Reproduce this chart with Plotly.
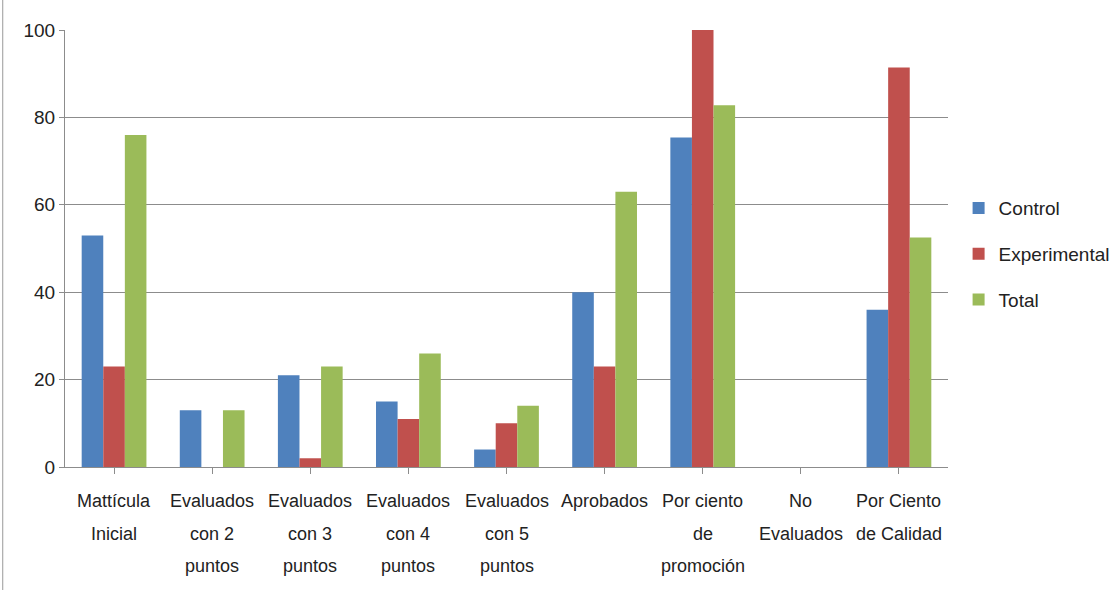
import plotly.graph_objects as go

# Categories (multi-line labels) and series values
categories = [
    "Mattícula<br>Inicial",
    "Evaluados<br>con 2<br>puntos",
    "Evaluados<br>con 3<br>puntos",
    "Evaluados<br>con 4<br>puntos",
    "Evaluados<br>con 5<br>puntos",
    "Aprobados",
    "Por ciento<br>de<br>promoción",
    "No<br>Evaluados",
    "Por Ciento<br>de Calidad",
]
control = [53, 13, 21, 15, 4, 40, 75.4, 0, 36]
experimental = [23, 0, 2, 11, 10, 23, 100, 0, 91.4]
total = [76, 13, 23, 26, 14, 63, 82.8, 0, 52.5]

series_names = ["Control", "Experimental", "Total"]
series_values = [control, experimental, total]
series_colors = ["#4F81BD", "#C0504D", "#9BBB59"]

y_ticks = [0, 20, 40, 60, 80, 100]

FONT = "Liberation Sans, Arial, sans-serif"
TEXT_COLOR = "#222222"
GRID_COLOR = "#8c8c8c"

fig = go.Figure()
for name, vals, color in zip(series_names, series_values, series_colors):
    fig.add_trace(go.Bar(
        x=list(range(len(categories))),
        y=vals,
        name=name,
        legendgroup=name,
        marker=dict(color=color, line=dict(width=0)),
    ))

# Category labels under the axis, one annotation per text line
for i, label in enumerate(categories):
    for j, line in enumerate(label.split("<br>")):
        fig.add_annotation(
            x=i, y=0, xref="x", yref="paper",
            text=line, showarrow=False,
            xanchor="center", yanchor="middle",
            yshift=-34 - 32.5 * j,
            font=dict(family=FONT, size=18, color=TEXT_COLOR),
        )

# Outer chart border on the left
fig.add_shape(type="line", xref="paper", yref="paper",
              x0=-0.0705, x1=-0.0705, y0=-0.29, y1=1.08,
              line=dict(color="#9a9a9a", width=1))

fig.update_layout(
    width=1120, height=590,
    margin=dict(l=65, r=172, t=30, b=123, autoexpand=False),
    paper_bgcolor="white",
    plot_bgcolor="white",
    barmode="group",
    bargap=0.34,
    bargroupgap=0,
    showlegend=True,
    legend=dict(
        x=1.012, y=0.487, xanchor="left", yanchor="middle",
        font=dict(family=FONT, size=19, color=TEXT_COLOR),
        tracegroupgap=18,
        itemwidth=30,
        bgcolor="rgba(0,0,0,0)",
    ),
    font=dict(family=FONT, size=18, color=TEXT_COLOR),
)

fig.update_xaxes(
    range=[-0.5, len(categories) - 0.5],
    tickmode="array",
    tickvals=list(range(len(categories))),
    showticklabels=False,
    tickson="boundaries",
    ticks="outside", ticklen=6, tickcolor=GRID_COLOR, tickwidth=1,
    showline=True, linecolor=GRID_COLOR, linewidth=1,
    showgrid=False, zeroline=False,
)
fig.update_yaxes(
    range=[0, 100],
    tickmode="array",
    tickvals=y_ticks,
    ticktext=[str(v) for v in y_ticks],
    ticks="outside", ticklen=5, tickcolor=GRID_COLOR, tickwidth=1,
    tickfont=dict(family=FONT, size=19, color=TEXT_COLOR),
    showline=True, linecolor=GRID_COLOR, linewidth=1,
    showgrid=True, gridcolor=GRID_COLOR, gridwidth=1,
    zeroline=False,
)

fig.write_html("out.html")
